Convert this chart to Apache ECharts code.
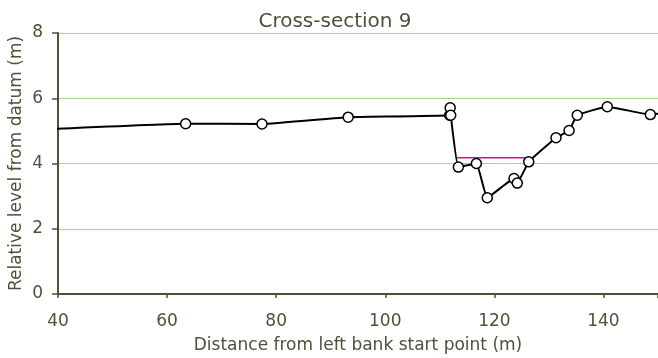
<!DOCTYPE html>
<html>
<head>
<meta charset="utf-8">
<script src="https://cdn.jsdelivr.net/npm/echarts@6/dist/echarts.min.js"></script>
<style>
  html, body { margin: 0; padding: 0; background: #fff; }
  #chart { width: 658px; height: 358px; }
</style>
</head>
<body>
<div id="chart"></div>
<script>
// Surveyed bed profile: distance from left bank (m) and relative level (m)
const distance = [35, 63.4, 77.4, 93.2, 111.8, 111.9, 112.0, 113.4, 116.7, 118.7, 123.6, 124.2, 126.3, 131.3, 133.7, 135.2, 140.7, 148.6, 155];
const level    = [5.03, 5.22, 5.21, 5.42, 5.48, 5.71, 5.48, 3.89, 4.00, 2.95, 3.54, 3.40, 4.05, 4.79, 5.01, 5.48, 5.74, 5.50, 5.65];
// Water surface across the channel
const waterDistance = [112.9, 126.4];
const waterLevel    = [4.18, 4.18];
// Axis ticks
const xTicks = [40, 60, 80, 100, 120, 140];
const yTicks = [0, 2, 4, 6, 8];

const ink = '#4b5338';
const font = '"DejaVu Sans", Verdana, sans-serif';

const chart = echarts.init(document.getElementById('chart'), null, { renderer: 'canvas' });
chart.setOption({
  animation: false,
  title: {
    text: 'Cross-section 9',
    left: 330, top: 7, textAlign: 'center',
    textStyle: { color: ink, fontFamily: font, fontSize: 20, fontWeight: 'normal' }
  },
  grid: { left: 58, right: 0, top: 33, bottom: 64, containLabel: false, outerBoundsMode: 'none' },
  xAxis: {
    type: 'value', min: 40, max: 150, interval: 20,
    name: 'Distance from left bank start point (m)',
    nameLocation: 'middle', nameGap: 43, nameMoveOverlap: false,
    nameTextStyle: { color: ink, fontFamily: font, fontSize: 17 },
    axisLine: { lineStyle: { color: ink, width: 2 } },
    axisTick: { show: true, length: 4, lineStyle: { color: ink, width: 1.5 } },
    axisLabel: {
      color: ink, fontFamily: font, fontSize: 17, margin: 19,
      formatter: v => xTicks.includes(v) ? String(v) : ''
    },
    splitLine: { show: false }
  },
  yAxis: {
    type: 'value', min: 0, max: 8, interval: 2,
    name: 'Relative level from datum (m)',
    nameLocation: 'middle', nameGap: 33, nameMoveOverlap: false,
    nameTextStyle: { color: ink, fontFamily: font, fontSize: 17 },
    axisLine: { show: true, lineStyle: { color: ink, width: 2 } },
    axisTick: { show: true, inside: false, length: 6, lineStyle: { color: ink, width: 1.5 } },
    axisLabel: {
      color: ink, fontFamily: font, fontSize: 17, margin: 15,
      formatter: v => yTicks.includes(v) ? String(v) : ''
    },
    splitLine: { show: true, lineStyle: { color: '#a9d68e', type: 'solid', width: 1 } }
  },
  series: [
    {
      type: 'line',
      data: waterDistance.map((d, i) => [d, waterLevel[i]]),
      showSymbol: false,
      lineStyle: { color: '#dc1079', width: 1.5 },
      z: 2
    },
    {
      type: 'line',
      data: distance.map((d, i) => [d, level[i]]),
      symbol: 'circle', symbolSize: 10,
      itemStyle: { color: '#ffffff', borderColor: '#000000', borderWidth: 1.5 },
      lineStyle: { color: '#000000', width: 2 },
      smooth: 0.1,
      clip: true,
      z: 3
    }
  ]
});
</script>
</body>
</html>
